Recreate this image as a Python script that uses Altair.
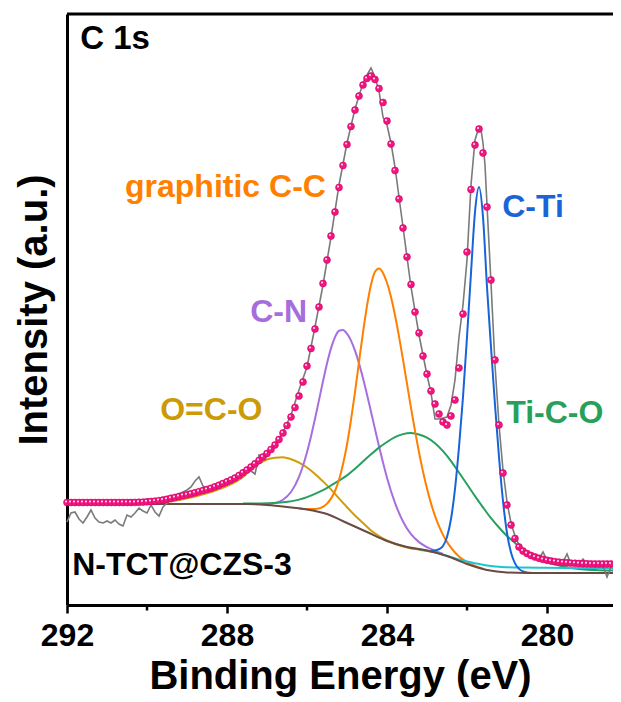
import altair as alt
import pandas as pd

# ---------------- data ----------------
# fitted envelope (pink spheres), every 0.1 eV
fit_energy = [
    292.0, 291.9, 291.8, 291.7, 291.6, 291.5, 291.4, 291.3, 291.2, 291.1,
    291.0, 290.9, 290.8, 290.7, 290.6, 290.5, 290.4, 290.3, 290.2, 290.1,
    290.0, 289.9, 289.8, 289.7, 289.6, 289.5, 289.4, 289.3, 289.2, 289.1,
    289.0, 288.9, 288.8, 288.7, 288.6, 288.5, 288.4, 288.3, 288.2, 288.1,
    288.0, 287.9, 287.8, 287.7, 287.6, 287.5, 287.4, 287.3, 287.2, 287.1,
    287.0, 286.9, 286.8, 286.7, 286.6, 286.5, 286.4, 286.3, 286.2, 286.1,
    286.0, 285.9, 285.8, 285.7, 285.6, 285.5, 285.4, 285.3, 285.2, 285.1,
    285.0, 284.9, 284.8, 284.7, 284.6, 284.5, 284.4, 284.3, 284.2, 284.1,
    284.0, 283.9, 283.8, 283.7, 283.6, 283.5, 283.4, 283.3, 283.2, 283.1,
    283.0, 282.9, 282.8, 282.7, 282.6, 282.5, 282.4, 282.3, 282.2, 282.1,
    282.0, 281.9, 281.8, 281.7, 281.6, 281.5, 281.4, 281.3, 281.2, 281.1,
    281.0, 280.9, 280.8, 280.7, 280.6, 280.5, 280.4, 280.3, 280.2, 280.1,
    280.0, 279.9, 279.8, 279.7, 279.6, 279.5, 279.4, 279.3, 279.2, 279.1,
    279.0, 278.9, 278.8, 278.7, 278.6, 278.5, 278.4,
]
fit_intensity = [
    102.5, 102.5, 102.5, 102.5, 102.5, 102.5, 102.5, 102.5, 102.5, 102.5,
    102.5, 102.5, 102.5, 102.5, 102.5, 102.5, 102.5, 102.6, 102.7, 102.9,
    103.2, 103.5, 103.9, 104.4, 105.0, 105.8, 106.7, 107.6, 108.5, 109.4,
    110.3, 111.3, 112.3, 113.4, 114.5, 115.6, 116.7, 118.2, 119.8, 121.5,
    123.2, 125.0, 127.0, 129.5, 132.2, 135.0, 138.0, 141.2, 144.5, 148.0,
    151.5, 155.5, 160.0, 165.5, 172.0, 179.5, 188.0, 197.5, 209.0, 223.0,
    239.0, 256.5, 276.0, 298.0, 321.5, 345.0, 369.0, 393.0, 417.5, 439.5,
    460.5, 478.5, 495.0, 509.0, 520.0, 526.5, 529.0, 525.5, 516.5, 502.5,
    484.0, 461.0, 434.5, 406.0, 377.0, 348.0, 320.5, 293.0, 272.0, 249.0,
    231.0, 214.0, 201.0, 191.0, 183.0, 180.0, 189.0, 205.0, 237.0, 291.0,
    353.0, 415.5, 460.0, 476.0, 452.0, 398.0, 325.0, 245.0, 180.0, 132.0,
    100.0, 80.0, 66.5, 58.0, 54.0, 51.5, 49.5, 48.0, 46.7, 45.6,
    44.7, 44.0, 43.4, 42.9, 42.5, 42.2, 41.9, 41.7, 41.5, 41.3,
    41.2, 41.1, 41.0, 41.0, 41.0, 41.0, 41.0,
]

# raw spectrum (grey noisy line)
raw_energy = [
    292.0, 291.9, 291.8, 291.7, 291.6, 291.5, 291.4, 291.3, 291.2, 291.1,
    291.0, 290.9, 290.8, 290.7, 290.6, 290.5, 290.4, 290.3, 290.2, 290.1,
    290.0, 289.9, 289.8, 289.7, 289.6, 289.5, 289.4, 289.3, 289.2, 289.1,
    289.0, 288.9, 288.8, 288.7, 288.6, 288.5, 288.4, 288.3, 288.2, 288.1,
    288.0, 287.9, 287.8, 287.7, 287.6, 287.5, 287.4, 287.3, 287.2, 287.1,
    287.0, 286.8, 286.6, 286.4, 286.2, 286.0, 285.8, 285.6, 285.4, 285.2,
    285.0, 284.8, 284.6, 284.5, 284.4, 284.3, 284.2, 284.1, 284.0, 283.9,
    283.8, 283.6, 283.4, 283.2, 283.0, 282.9, 282.8, 282.7, 282.6, 282.5,
    282.4, 282.3, 282.2, 282.1, 282.0, 281.9, 281.8, 281.7, 281.65, 281.6,
    281.55, 281.5, 281.4, 281.3, 281.2, 281.1, 281.0, 280.9, 280.8, 280.7,
    280.6, 280.5, 280.4, 280.3, 280.2, 280.1, 280.0, 279.9, 279.8, 279.7,
    279.6, 279.5, 279.4, 279.3, 279.2, 279.1, 279.0, 278.9, 278.8, 278.7,
    278.6, 278.5, 278.4, 278.35,
]
raw_intensity = [
    83, 92, 93, 86, 82, 88, 95, 87, 83, 82,
    84, 82, 85, 81, 79, 90, 88, 92, 97, 94,
    92, 100, 93, 89, 98, 102, 106, 108, 111, 113,
    115, 118, 124, 128, 119, 116, 115, 118, 119, 122,
    125, 127, 125, 130, 132, 136, 134, 131, 150, 149,
    152, 160, 173, 190, 215, 238, 278, 320, 368, 420,
    462, 496, 522, 530, 537, 528, 514, 488, 480, 462,
    438, 378, 318, 270, 230, 212, 186, 186, 187, 188,
    200, 225, 268, 300, 345, 420, 465, 478, 475, 462,
    440, 400, 322, 240, 180, 135, 103, 82, 69, 60,
    55, 51, 49, 47, 46, 53, 45, 43, 44, 42,
    43, 51, 41, 42, 41, 46, 41, 40, 40, 41,
    39, 28, 38, 40,
]

# Shirley-type background
bg_energy = [292.0, 288.0, 287.5, 287.0, 286.5, 286.0, 285.5, 285.0, 284.5,
             284.0, 283.5, 283.0, 282.5, 282.0, 281.5, 281.0, 280.5, 278.35]
bg_intensity = [101, 101, 101, 100, 98, 95.5, 91, 82, 73,
                64, 58, 54.5, 49, 41, 35, 32.5, 32, 32]

# O=C-O component (gold)
oco_energy = [289.6, 289.2, 288.8, 288.4, 288.0, 287.6, 287.4, 287.2, 287.0, 286.8,
              286.6, 286.4, 286.2, 286.0, 285.8, 285.6, 285.4, 285.2, 285.0, 284.8,
              284.6, 284.4, 284.2, 284.0, 283.6, 283.2, 282.8]
oco_intensity = [102, 105, 108.5, 113, 119, 128, 135.5, 141.5, 145.5, 147.3,
                 147.8, 145.8, 142.4, 137.5, 131.1, 123.6, 115.6, 106.6, 97.8, 89.5,
                 82, 74.5, 69, 64.5, 58.5, 55.3, 52.8]

# C-N component (purple)
cn_energy = [287.4, 287.0, 286.8, 286.6, 286.4, 286.2, 286.0, 285.9, 285.8, 285.7,
             285.6, 285.5, 285.4, 285.3, 285.2, 285.1, 285.0, 284.9, 284.8, 284.7,
             284.6, 284.5, 284.4, 284.3, 284.2, 284.1, 284.0, 283.8, 283.6, 283.4,
             283.2, 283.0, 282.8, 282.6]
cn_intensity = [100.9, 100.9, 101.9, 105.3, 113.0, 128.1, 152.8, 168.6, 186.2, 204.9,
                223.8, 241.5, 256.6, 267.8, 274.2, 275.0, 271.3, 264.4, 254.3, 241.6,
                226.8, 210.5, 193.3, 175.9, 158.7, 142.4, 127.3, 102.1, 83.5, 70.8,
                62.9, 57.9, 54.3, 51.0]

# graphitic C-C component (orange)
ctc_energy = [286.2, 286.0, 285.8, 285.6, 285.5, 285.4, 285.3, 285.2, 285.1, 285.0,
              284.9, 284.8, 284.7, 284.6, 284.5, 284.4, 284.3, 284.2, 284.1, 284.0,
              283.9, 283.8, 283.7, 283.6, 283.5, 283.4, 283.3, 283.2, 283.1, 283.0,
              282.9, 282.8, 282.7, 282.6, 282.5, 282.4, 282.3, 282.2, 282.0, 281.8,
              281.6]
ctc_intensity = [96.6, 96.0, 96.0, 98.2, 101.4, 106.4, 114.0, 125.3, 140.7, 160.5,
                 185.1, 212.9, 242.9, 272.5, 299.2, 320.3, 333.3, 336.6, 332.1, 322.2,
                 308.0, 289.7, 268.6, 245.4, 221.3, 197.2, 174.1, 152.7, 133.4, 116.4,
                 101.6, 89.2, 78.8, 70.1, 63.1, 57.3, 52.5, 48.5, 42.9, 39.1,
                 36.2]

# Ti-C-O component (green)
tico_energy = [287.6, 287.0, 286.6, 286.2, 286.0, 285.8, 285.6, 285.4, 285.2, 285.0,
               284.8, 284.6, 284.4, 284.2, 284.0, 283.8, 283.6, 283.4, 283.3, 283.2,
               283.0, 282.8, 282.6, 282.4, 282.2, 282.0, 281.8, 281.6, 281.4, 281.2,
               281.0, 280.8, 280.6, 280.4, 280.2, 280.0, 279.6, 279.2, 278.8, 278.35]
tico_intensity = [101.4, 101.8, 102.7, 105.4, 107.9, 111.1, 114.9, 119.5, 124.3, 129.6,
                  136.3, 143.5, 150.7, 157.4, 163.0, 167.9, 170.9, 171.9, 171.5, 170.5,
                  167.3, 161.7, 153.8, 143.9, 132.5, 120.8, 108.9, 97.6, 86.8, 77.5,
                  69.0, 62.1, 55.8, 50.6, 46.3, 42.9, 38.5, 36.0, 35.0, 34.5]

# C-Ti component (blue)
cti_energy = [282.9, 282.8, 282.7, 282.6, 282.5, 282.4, 282.3, 282.2, 282.1, 282.0,
              281.9, 281.8, 281.7, 281.6, 281.5, 281.4, 281.3, 281.2, 281.1, 281.0,
              280.9, 280.8, 280.7, 280.6, 280.5, 280.4]
cti_intensity = [54.3, 54.5, 55.8, 59.0, 68.0, 86.0, 116.0, 158.0, 208.0, 268.0,
                 332.0, 393.0, 418.0, 388.0, 318.0, 258.0, 200.0, 148.0, 104.0, 72.0,
                 52.5, 41.6, 36.1, 33.6, 32.5, 32.2]

# extra background-like component (cyan)
cyan_energy = [283.2, 283.0, 282.8, 282.6, 282.4, 282.2, 282.0, 281.8, 281.6, 281.4,
               281.2, 281.0, 280.6, 280.0, 279.0, 278.35]
cyan_intensity = [55.8, 54.5, 52.8, 50.4, 48.0, 45.5, 43.5, 41.8, 40.2, 39.0,
                  38.2, 37.8, 37.4, 37.2, 37.0, 36.8]

# annotations
label_text = ["C 1s", "graphitic C-C", "C-N", "O=C-O", "C-Ti", "Ti-C-O", "N-TCT@CZS-3"]
label_energy = [291.67, 290.55, 287.42, 289.67, 281.12, 281.02, 291.87]
label_intensity = [556, 408, 283, 185, 388, 182, 30]
label_color = ["#000000", "#FF8000", "#A66DDC", "#CC9A06", "#1A64D8", "#27A05A", "#000000"]
label_size = [33, 32, 32, 32, 32, 32, 32]

major_ticks = [292, 288, 284, 280]
minor_ticks = [290, 286, 282]

# ---------------- chart ----------------
W, H = 546, 591
FONT = "Liberation Sans"

xs = alt.Scale(domain=[278.35, 292.0], reverse=True, nice=False, zero=False)
ys = alt.Scale(domain=[0, 591], nice=False, zero=False)

x_axis = alt.Axis(values=major_ticks, format="d", title="Binding Energy (eV)", grid=False,
                  domainColor="black", domainWidth=3, tickColor="black", tickWidth=2.5,
                  tickSize=8, labelFont=FONT, labelFontSize=32, labelFontWeight="bold",
                  labelColor="black", labelPadding=7, labelFlush=False, labelOverlap=False,
                  titleFont=FONT, titleFontSize=40, titleFontWeight="bold",
                  titleColor="black", titlePadding=5)
y_axis = alt.Axis(labels=False, ticks=False, grid=False, domainColor="black", domainWidth=3,
                  title="Intensity (a.u.)", titleFont=FONT, titleFontSize=40,
                  titleFontWeight="bold", titleColor="black", titlePadding=13)


def X():
    return alt.X("E:Q", scale=xs, axis=x_axis)


def Y():
    return alt.Y("I:Q", scale=ys, axis=y_axis)


def df(e, i):
    return pd.DataFrame({"E": e, "I": i})


def curve(e, i, color, width=2.0):
    return alt.Chart(df(e, i)).transform_window(idx="row_number()").mark_line(
        interpolate="monotone", color=color, strokeWidth=width
    ).encode(x=X(), y=Y(), order="idx:Q")


layers = [
    curve(oco_energy, oco_intensity, "#CC9E0A"),
    curve(cn_energy, cn_intensity, "#A66FDD"),
    curve(tico_energy, tico_intensity, "#27A05E"),
    curve(ctc_energy, ctc_intensity, "#FF8000"),
    curve(cyan_energy, cyan_intensity, "#1CC5D0"),
    curve(cti_energy, cti_intensity, "#1764DA"),
    curve(bg_energy, bg_intensity, "#6A4A42"),
    alt.Chart(df(raw_energy, raw_intensity)).transform_window(idx="row_number()").mark_line(
        color="#7A7A7A", strokeWidth=1.6
    ).encode(x=X(), y=Y(), order="idx:Q"),
    alt.Chart(df(fit_energy, fit_intensity)).mark_circle(
        size=48, color="#F2167F", opacity=1, stroke="#D4006A", strokeWidth=0.6
    ).encode(x=X(), y=Y()),
    alt.Chart(df(fit_energy, fit_intensity)).mark_circle(
        size=4, color="#FFFFFF", opacity=0.9, xOffset=-1, yOffset=-1
    ).encode(x=X(), y=Y()),
    alt.Chart(pd.DataFrame({"E": label_energy, "I": label_intensity, "t": label_text,
                            "c": label_color, "s": label_size})).mark_text(
        align="left", baseline="alphabetic", font=FONT, fontWeight="bold"
    ).encode(x=X(), y=Y(), text="t:N", color=alt.Color("c:N", scale=None),
             size=alt.Size("s:Q", scale=None)),
    alt.Chart(pd.DataFrame({"E": minor_ticks})).mark_rule(
        color="black", strokeWidth=2.5
    ).encode(x=X(), y=alt.value(H), y2=alt.value(H + 5.5)),
    alt.Chart(pd.DataFrame({"E": [292.0]})).mark_rule(
        color="black", strokeWidth=3
    ).encode(x=alt.value(0), x2=alt.value(W), y=alt.value(0)),
]

chart = alt.layer(*layers).properties(
    width=W, height=H,
    autosize=alt.AutoSizeParams(type="none"),
    padding={"left": 59, "top": 6, "right": 0, "bottom": 93},
    background="white",
).configure_view(stroke=None)

chart.save("out.html", embed_options={"renderer": "svg", "actions": False})
